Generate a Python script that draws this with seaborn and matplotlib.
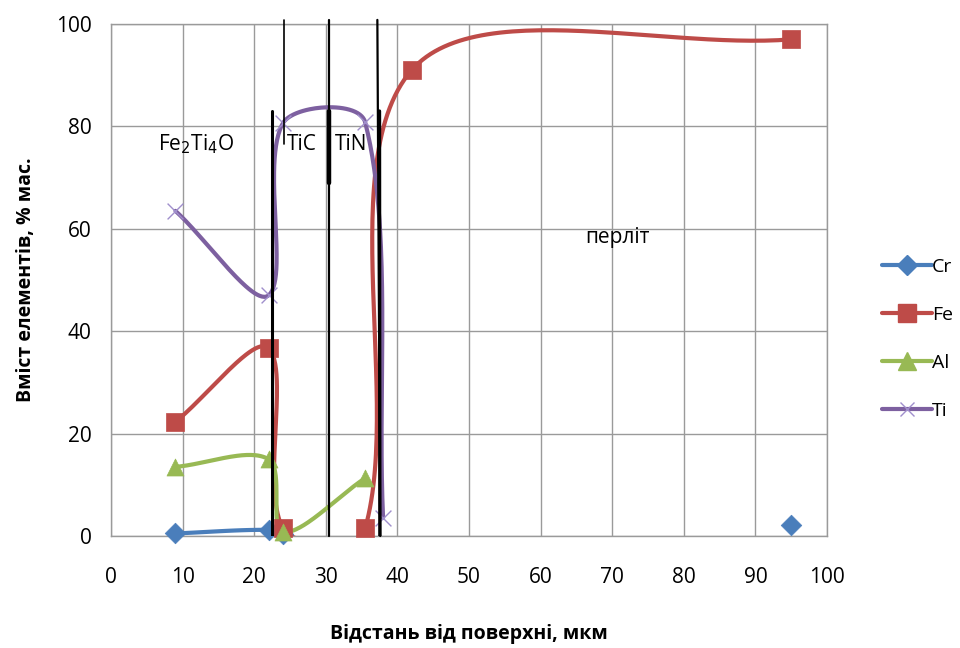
import numpy as np
import pandas as pd
import matplotlib
matplotlib.use("Agg")
import matplotlib.pyplot as plt
from matplotlib.lines import Line2D
import seaborn as sns

# distance from surface (um) and content (% mass) for each element
# NaN marks an empty cell -> gap in the line
cr_x = [9, 22, 24, 35.5, 95]
cr_y = [0.5, 1.2, 0.3, np.nan, 2.2]
fe_x = [9, 22, 24, 35.5, 42, 95]
fe_y = [22.3, 36.7, 1.5, 1.5, 91.0, 97.0]
al_x = [9, 22, 24, 35.5]
al_y = [13.5, 15.0, 0.8, 11.3]
ti_x = [9, 22, 24, 35.5, 38]
ti_y = [63.5, 47.0, 80.6, 80.8, 3.5]

elements = ["Cr", "Fe", "Al", "Ti"]
series = {"Cr": (cr_x, cr_y), "Fe": (fe_x, fe_y), "Al": (al_x, al_y), "Ti": (ti_x, ti_y)}

# phase boundaries drawn by hand on the original chart
bounds_x = [22.5, 24.2, 30.4, 37.4]
phase_labels = ["Fe$_2$Ti$_4$O", "TiC", "TiN", "перліт"]

colors = {"Cr": "#4a7ebb", "Fe": "#be4b48", "Al": "#98b954", "Ti": "#7d60a0"}
markers = {"Cr": "D", "Fe": "s", "Al": "^", "Ti": "x"}
msize = {"Cr": 110, "Fe": 170, "Al": 150, "Ti": 130}

sns.set_style("white")
plt.rcParams["font.family"] = ["Open Sans", "DejaVu Sans"]
plt.rcParams["text.color"] = "black"
plt.rcParams["axes.labelcolor"] = "black"
plt.rcParams["xtick.color"] = "black"
plt.rcParams["ytick.color"] = "black"

fig = plt.figure(figsize=(9.6, 6.48), dpi=100)
ax = fig.add_axes([111 / 960, 1 - 536 / 648, 716 / 960, 512 / 648])
ax.set_xlim(0, 100)
ax.set_ylim(0, 100)

# pixel scale, so the smoothing works in screen space like Excel does
sx = 716 / 100.0
sy = 512 / 100.0


def smooth(xs, ys, n=60):
    p = np.column_stack([np.asarray(xs) * sx, np.asarray(ys) * sy])
    out = [p[0]]
    m = len(p)
    for i in range(m - 1):
        p0 = p[i - 1] if i > 0 else p[i]
        p1 = p[i]
        p2 = p[i + 1]
        p3 = p[i + 2] if i + 2 < m else p[i + 1]
        d01 = np.hypot(*(p1 - p0))
        d12 = np.hypot(*(p2 - p1))
        d23 = np.hypot(*(p3 - p2))
        c1 = p1 + (p2 - p0) * d12 / (d01 + d12) / 3 if d01 > 0 else p1 + (p2 - p1) / 3
        c2 = p2 - (p3 - p1) * d12 / (d12 + d23) / 3 if d23 > 0 else p2 - (p2 - p1) / 3
        t = np.linspace(0, 1, n)[1:, None]
        seg = (1 - t) ** 3 * p1 + 3 * (1 - t) ** 2 * t * c1 + 3 * (1 - t) * t ** 2 * c2 + t ** 3 * p2
        out.extend(seg)
    out = np.array(out)
    return out[:, 0] / sx, out[:, 1] / sy


for el in elements:
    df = pd.DataFrame({"x": series[el][0], "y": series[el][1]})
    grp = df["y"].isna().cumsum()
    ok = df["y"].notna()
    for _, part in df[ok].groupby(grp[ok]):
        if len(part) > 1:
            lx, ly = smooth(part["x"].values, part["y"].values)
            ax.plot(lx, ly, color=colors[el], lw=3.0, solid_capstyle="round", zorder=3)

for el in elements:
    df = pd.DataFrame({"x": series[el][0], "y": series[el][1]}).dropna()
    if el == "Ti":
        sns.scatterplot(data=df, x="x", y="y", marker="x", s=msize[el], color="#a08fcc",
                        linewidth=1.0, ax=ax, zorder=4, clip_on=False, legend=False)
    else:
        sns.scatterplot(data=df, x="x", y="y", marker=markers[el], s=msize[el], color=colors[el],
                        edgecolor=colors[el], linewidth=0.5, ax=ax, zorder=4, clip_on=False, legend=False)

# black boundary lines
ax.plot([bounds_x[0], bounds_x[0]], [0, 83], color="black", lw=2.2, zorder=5)
ax.plot([bounds_x[1], bounds_x[1]], [76.5, 100.8], color="black", lw=1.2, zorder=5, clip_on=False)
ax.plot([bounds_x[2], bounds_x[2]], [0, 100.8], color="black", lw=1.6, zorder=5, clip_on=False)
ax.plot([bounds_x[2] + 0.1, bounds_x[2] + 0.1], [69, 83], color="black", lw=3.2, zorder=5)
ax.plot([bounds_x[3] + 0.2, bounds_x[3] - 0.2], [0, 100.8], color="black", lw=1.6, zorder=5, clip_on=False)
ax.plot([bounds_x[3] + 0.15, bounds_x[3] + 0.1], [0, 83], color="black", lw=2.4, zorder=5)

ax.text(6.5, 76.5, phase_labels[0], fontsize=15, va="center", ha="left", zorder=6)
ax.text(24.6, 76.5, phase_labels[1], fontsize=15, va="center", ha="left", zorder=6)
ax.text(31.2, 76.5, phase_labels[2], fontsize=15, va="center", ha="left", zorder=6)
ax.text(66.2, 58.3, phase_labels[3], fontsize=15, va="center", ha="left", zorder=6)

ax.set_xticks(range(0, 101, 10))
ax.set_yticks(range(0, 101, 20))
ax.grid(True, color="#9a9a9a", lw=1.0)
ax.tick_params(length=0, labelsize=15)
ax.tick_params(axis="x", pad=22)
ax.tick_params(axis="y", pad=14)
for s in ax.spines.values():
    s.set_color("#9a9a9a")
    s.set_linewidth(1.0)

ax.set_xlabel("Відстань від поверхні, мкм", fontsize=14, fontweight="bold", labelpad=26)
ax.set_ylabel("Вміст елементів, % мас.", fontsize=14, fontweight="bold", labelpad=14)

handles = []
for el in elements:
    if el == "Ti":
        h = Line2D([], [], color=colors[el], lw=3.0, marker="x", markersize=10,
                   markeredgecolor="#a08fcc", markeredgewidth=1.0)
    else:
        h = Line2D([], [], color=colors[el], lw=3.0, marker=markers[el],
                   markersize=np.sqrt(msize[el]), markeredgecolor=colors[el])
    handles.append(h)
fig.legend(handles, elements, loc="center left", bbox_to_anchor=(0.9, 0.477),
           frameon=False, fontsize=14, handlelength=2.6, labelspacing=1.55, handletextpad=0.0)

fig.savefig("out.png", dpi=100)
